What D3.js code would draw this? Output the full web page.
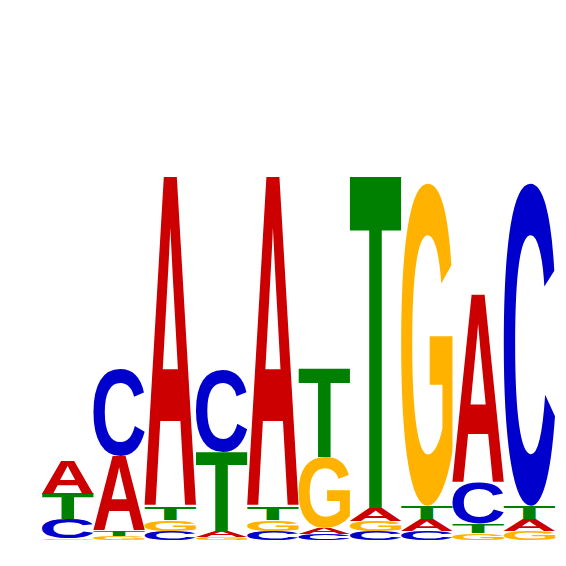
<!DOCTYPE html>
<html>
<head>
<meta charset="utf-8">
<script src="https://d3js.org/d3.v7.min.js"></script>
<style>
  html, body { margin: 0; padding: 0; background: #fff; }
  svg { display: block; }
</style>
</head>
<body>
<div id="logo"></div>
<script>
// positions of the motif
var positions = [1, 2, 3, 4, 5, 6, 7, 8, 9, 10];

// letter heights in bits, one value per position
var A = [0.174, 0.385, 1.697, 0.031, 1.697, 0.033, 0.067, 0.062, 0.969, 0.062];
var C = [0.100, 0.446, 0.046, 0.421, 0.046, 0.030, 0.046, 0.046, 0.210, 1.656];
var G = [0.008, 0.021, 0.056, 0.015, 0.056, 0.364, 0.051, 1.656, 0.036, 0.046];
var T = [0.128, 0.026, 0.067, 0.405, 0.067, 0.456, 1.703, 0.067, 0.046, 0.067];

var letters = ["A", "C", "G", "T"];
var colours = {A: "#cc0000", C: "#0000cc", G: "#ffb300", T: "#008000"};

var W = 566, H = 566;
var fontSize = 200;
var font = "bold " + fontSize + "px 'Liberation Sans'";

var svg = d3.select("#logo").append("svg")
    .attr("width", W)
    .attr("height", H);

var x = d3.scaleBand().domain(positions).range([42, 555]).padding(0);
var y = d3.scaleLinear().domain([0, 2]).range([540, 150]);

// ink bounds of each glyph (pixel scan), so letters can be stretched to fill their box
var cw = 400, ch = 400, ox = 50, oy = 300;
var canvas = document.createElement("canvas");
canvas.width = cw; canvas.height = ch;
var ctx = canvas.getContext("2d");
var ink = {};
letters.forEach(function(l) {
  ctx.clearRect(0, 0, cw, ch);
  ctx.font = font;
  ctx.fillStyle = "#000";
  ctx.fillText(l, ox, oy);
  var data = ctx.getImageData(0, 0, cw, ch).data;
  var minX = cw, maxX = -1, minY = ch, maxY = -1;
  for (var j = 0; j < ch; j++) {
    for (var i = 0; i < cw; i++) {
      if (data[(j * cw + i) * 4 + 3] > 100) {
        if (i < minX) minX = i;
        if (i > maxX) maxX = i;
        if (j < minY) minY = j;
        if (j > maxY) maxY = j;
      }
    }
  }
  ink[l] = {left: minX - ox, right: maxX + 1 - ox, top: minY - oy, bottom: maxY + 1 - oy};
});

var table = {A: A, C: C, G: G, T: T};

positions.forEach(function(p, i) {
  // smallest letter at the bottom
  var stack = letters.map(function(l) { return {letter: l, value: table[l][i]}; })
    .sort(function(a, b) { return a.value - b.value; });
  var base = 0;
  stack.forEach(function(d) {
    d.y0 = base;
    d.y1 = base + d.value;
    base = d.y1;
  });

  var col = svg.append("g").attr("class", "col");
  col.selectAll("text")
    .data(stack)
    .join("text")
      .text(function(d) { return d.letter; })
      .attr("fill", function(d) { return colours[d.letter]; })
      .style("font", font)
      .attr("transform", function(d) {
        var b = ink[d.letter];
        var bw = b.right - b.left, bh = b.bottom - b.top;
        var x0 = x(p), top = y(d.y1);
        var sx = x.bandwidth() / bw;
        var sy = (y(d.y0) - y(d.y1)) / bh;
        return "translate(" + x0 + "," + top + ") scale(" + sx + "," + sy + ") translate(" + (-b.left) + "," + (-b.top) + ")";
      });
});
</script>
</body>
</html>
